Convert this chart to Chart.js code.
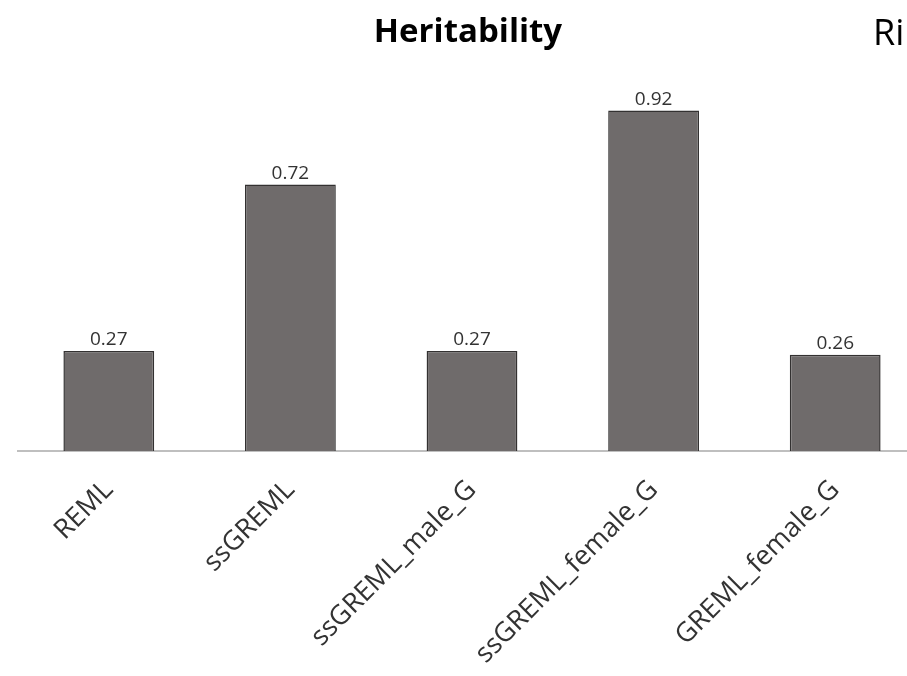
<!DOCTYPE html>
<html>
<head>
<meta charset="utf-8">
<script src="https://cdn.jsdelivr.net/npm/chart.js@4"></script>
<style>
  html, body { margin: 0; padding: 0; background: #fff; overflow: hidden; }
  #wrap { width: 926px; height: 676px; }
</style>
</head>
<body>
<div id="wrap"><canvas id="chart" width="926" height="676"></canvas></div>
<script>
const categories = ["REML", "ssGREML", "ssGREML_male_G", "ssGREML_female_G", "GREML_female_G"];
const heritability = [0.27, 0.72, 0.27, 0.92, 0.26];
const chartTitle = "Heritability";
const nextTitle = "Ri";

// value labels over the bars + the titles
const labelPlugin = {
  id: "labels",
  afterDatasetsDraw(chart) {
    const ctx = chart.ctx;
    const meta = chart.getDatasetMeta(0);
    ctx.save();
    ctx.fillStyle = "#333";
    ctx.font = "19px 'Open Sans'";
    ctx.textAlign = "center";
    ctx.textBaseline = "alphabetic";
    meta.data.forEach((bar, i) => {
      ctx.fillText(heritability[i].toFixed(2), bar.x, bar.y - 6);
    });
    ctx.fillStyle = "#000";
    ctx.font = "bold 33px 'Open Sans'";
    ctx.fillText(chartTitle, 468, 42);
    ctx.textAlign = "left";
    ctx.font = "36px 'Open Sans'";
    ctx.fillText(nextTitle, 873, 45);
    ctx.restore();
  }
};

new Chart(document.querySelector("#chart").getContext("2d"), {
  type: "bar",
  data: {
    labels: categories,
    datasets: [{
      data: heritability,
      backgroundColor: "#6f6b6b",
      borderColor: "#333131",
      borderWidth: 1.5,
      categoryPercentage: 1,
      barPercentage: 0.5,
    }],
  },
  options: {
    responsive: false,
    animation: false,
    layout: { padding: { left: 18, right: 0, top: 81, bottom: 0 } },
    plugins: { legend: { display: false }, tooltip: { enabled: false } },
    scales: {
      x: {
        grid: { display: false, drawTicks: false },
        border: { color: "#bfbfbf", width: 2 },
        ticks: {
          color: "#333",
          font: { family: "'Open Sans'", size: 27 },
          minRotation: 45,
          maxRotation: 45,
          padding: 23,
        },
        afterFit(scale) {
          scale.height = 225;
        },
      },
      y: {
        display: false,
        min: 0,
        max: 1,
      },
    },
  },
  plugins: [labelPlugin],
});
</script>
</body>
</html>
